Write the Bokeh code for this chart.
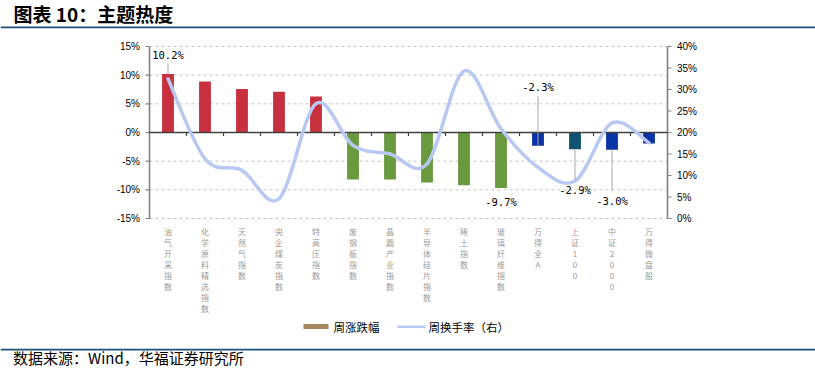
from bokeh.plotting import figure
from bokeh.models import Range1d
from bokeh.embed import file_html
from bokeh.resources import INLINE
from bokeh.core.properties import value

# ---------------- data ----------------
categories = ["油气开采指数", "化学原料精选指数", "天然气指数", "央企煤炭指数", "特高压指数",
              "废钢板指数", "晶圆产业指数", "半导体硅片指数", "稀土指数", "玻璃纤维指数",
              "万得全A", "上证100", "中证2000", "万得微盘股"]
weekly_change = [10.2, 8.9, 7.6, 7.1, 6.3, -8.2, -8.2, -8.7, -9.2, -9.7, -2.3, -2.9, -3.0, -1.9]   # %
turnover = [32.5, 13.9, 11.2, 4.6, 26.7, 17.0, 15.0, 12.7, 34.3, 20.9, 11.9, 8.7, 22.2, 17.6]         # %
bar_colors = ["#C8303E"] * 5 + ["#6A9A3E"] * 5 + ["#0A33A5", "#0E5470", "#0A33A5", "#0A33A5"]
left_ticks = [-0.15, -0.10, -0.05, 0.0, 0.05, 0.10, 0.15]
left_labels = ["-15%", "-10%", "-5%", "0%", "5%", "10%", "15%"]
right_ticks = [0.0, 0.05, 0.10, 0.15, 0.20, 0.25, 0.30, 0.35, 0.40]
right_labels = ["0%", "5%", "10%", "15%", "20%", "25%", "30%", "35%", "40%"]
labelled = {0: 19.5, 9: -14, 10: 58.5, 11: -40.5, 12: -51}   # bar index -> label offset (px, up +)
leader_bars = [0, 10, 11, 12]
title = "图表 10：主题热度"
legend_labels = ["周涨跌幅", "周换手率（右）"]
source_note = "数据来源：Wind，华福证券研究所"

# ---------------- geometry (canvas pixels) ----------------
CW, CH = 815, 376
PX0, PY_TOP, PY_BOT, PY_ZERO = 149, 46, 218, 132
n = len(categories)
CAT_W = 37.0
ppu_l = (PY_BOT - PY_TOP) / 0.30
ppu_r = (PY_BOT - PY_TOP) / 0.40
PX1 = PX0 + CAT_W * n

p = figure(width=CW, height=CH, output_backend="svg", toolbar_location=None,
           x_range=Range1d(-PX0 / CAT_W, (CW - PX0) / CAT_W),
           y_range=Range1d(-(CH - PY_ZERO) / ppu_l, PY_ZERO / ppu_l),
           min_border=0, x_axis_location=None, y_axis_location=None)
p.extra_y_ranges = {"right": Range1d(-(CH - PY_BOT) / ppu_r, PY_BOT / ppu_r),
                    "py": Range1d(CH, 0)}
p.extra_x_ranges = {"px": Range1d(0, CW)}
p.grid.visible = False
p.outline_line_color = None
p.background_fill_color = "white"
p.border_fill_color = "white"

xs = [i + 0.5 for i in range(n)]
AX = "#808080"

# dashed grid (left ticks, except zero)
g = [t for t in left_ticks if t != 0]
p.segment(x0=[0] * len(g), y0=g, x1=[n] * len(g), y1=g, line_color="#C4C4C4",
          line_width=1, line_dash="3 3")

# left axis
p.segment(x0=[0], y0=[left_ticks[0]], x1=[0], y1=[left_ticks[-1]], line_color=AX, line_width=1.6)
p.segment(x0=[PX0 - 4] * len(left_ticks), y0=left_ticks, x1=[PX0] * len(left_ticks), y1=left_ticks,
          x_range_name="px", line_color=AX, line_width=1.2)
p.text(x=[PX0 - 9.5] * len(left_ticks), y=left_ticks, text=left_labels, x_range_name="px",
       text_align="right", text_baseline="middle", text_font=value("Liberation Sans"),
       text_font_size="10px", text_color="#000000")

# right axis
p.segment(x0=[n], y0=[right_ticks[0]], x1=[n], y1=[right_ticks[-1]], y_range_name="right",
          line_color=AX, line_width=1.6)
p.segment(x0=[PX1] * len(right_ticks), y0=right_ticks, x1=[PX1 + 4] * len(right_ticks), y1=right_ticks,
          x_range_name="px", y_range_name="right", line_color=AX, line_width=1.2)
p.text(x=[PX1 + 9.5] * len(right_ticks), y=right_ticks, text=right_labels, x_range_name="px",
       y_range_name="right", text_align="left", text_baseline="middle",
       text_font=value("Liberation Sans"), text_font_size="10px", text_color="#000000")

# bars
chg = [v / 100 for v in weekly_change]
p.vbar(x=xs, top=chg, bottom=0, width=0.32, color=bar_colors, line_color=None)

# zero (category) axis with ticks
p.segment(x0=[0], y0=[0], x1=[n], y1=[0], line_color="#404040", line_width=1.5)
bounds = list(range(1, n))
tick_len = 3.5 / ppu_l
p.segment(x0=bounds, y0=[0] * len(bounds), x1=bounds, y1=[-tick_len] * len(bounds),
          line_color="#404040", line_width=1.2)

# smoothed turnover line (cubic Bezier through each point, Excel-like)
ty = [v / 100 for v in turnover]
x0s, y0s, x1s, y1s, c0x, c0y, c1x, c1y = [], [], [], [], [], [], [], []
for i in range(n - 1):
    a = max(i - 1, 0); d = min(i + 2, n - 1)
    x0s.append(xs[i]); y0s.append(ty[i]); x1s.append(xs[i + 1]); y1s.append(ty[i + 1])
    c0x.append(xs[i] + (xs[i + 1] - xs[a]) / 6); c0y.append(ty[i] + (ty[i + 1] - ty[a]) / 6)
    c1x.append(xs[i + 1] - (xs[d] - xs[i]) / 6); c1y.append(ty[i + 1] - (ty[d] - ty[i]) / 6)
p.bezier(x0=x0s, y0=y0s, x1=x1s, y1=y1s, cx0=c0x, cy0=c0y, cx1=c1x, cy1=c1y,
         line_color="#B7C9F2", line_width=3.5, line_cap="round", y_range_name="right")

# data labels and leader lines
lx = [xs[i] for i in labelled]
ly = [chg[i] + off / ppu_l for i, off in labelled.items()]
lt = [f"{weekly_change[i]:.1f}%" for i in labelled]
p.text(x=lx, y=ly, text=lt, text_align="center", text_baseline="middle",
       text_font=value("DejaVu Sans Mono"), text_font_size="10.5px", text_color="#000000")
for i in leader_bars:
    off = labelled[i]
    end = off - (9 if off > 0 else -10)
    p.segment(x0=[xs[i]], y0=[chg[i]], x1=[xs[i]], y1=[chg[i] + end / ppu_l],
              line_color="#A6A6A6", line_width=1)

# vertical category labels
p.text(x=xs, y=[225] * n, y_range_name="py", text=["\n".join(c) for c in categories],
       text_align="center", text_baseline="top", text_font=value("Noto Sans CJK SC"),
       text_font_size="8px", text_line_height=1.0, text_color="#9A9A9A")

# title, rules, legend, source (page pixel coordinates)
p.text(x=[13], y=[13], x_range_name="px", y_range_name="py", text=[title],
       text_font=value("Noto Sans CJK SC"), text_font_style="bold", text_font_size="19px",
       text_baseline="middle", text_color="#000000")
p.quad(left=[0, 0], right=[CW, CW], top=[26, 348.3], bottom=[27.7, 350],
       x_range_name="px", y_range_name="py", fill_color="#1F4E79", line_color=None)
p.quad(left=[303], right=[328], top=[323.5], bottom=[328.5], x_range_name="px", y_range_name="py",
       fill_color="#A8875F", line_color=None)
p.quad(left=[397], right=[425], top=[325], bottom=[327.5], x_range_name="px", y_range_name="py",
       fill_color="#B7C9F2", line_color=None)
p.text(x=[333, 428], y=[326, 326], x_range_name="px", y_range_name="py", text=legend_labels,
       text_font=value("Noto Sans CJK SC"), text_font_size="11.5px", text_baseline="middle",
       text_color="#000000")
p.text(x=[12.5], y=[357], x_range_name="px", y_range_name="py", text=[source_note],
       text_font=value("Noto Sans CJK SC"), text_font_size="15px", text_baseline="middle",
       text_color="#000000")

open("out.html", "w").write(file_html(p, INLINE))
